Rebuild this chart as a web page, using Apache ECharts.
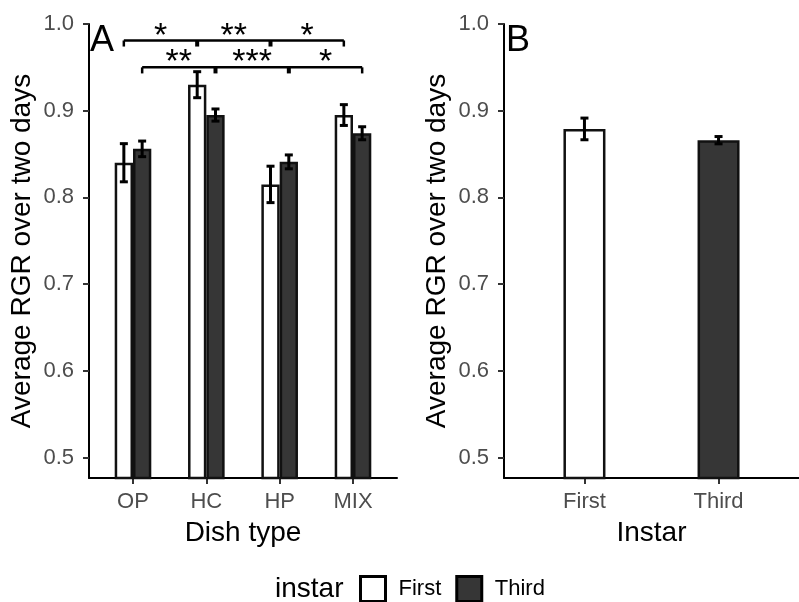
<!DOCTYPE html>
<html>
<head>
<meta charset="utf-8">
<script src="https://cdn.jsdelivr.net/npm/echarts@6/dist/echarts.min.js"></script>
<style>
  html, body { margin: 0; padding: 0; background: #fff; }
  #chart { width: 799px; height: 602px; }
</style>
</head>
<body>
<div id="chart"></div>
<script>
// panel A: dish type x instar
var dishes = ['OP', 'HC', 'HP', 'MIX'];
var firstMean = [0.840, 0.930, 0.815, 0.895];
var firstSE = [0.022, 0.015, 0.021, 0.012];
var thirdMean = [0.856, 0.895, 0.841, 0.874];
var thirdSE = [0.009, 0.007, 0.008, 0.0075];

// panel B: instar only
var instars = ['First', 'Third'];
var instarMean = [0.879, 0.866];
var instarSE = [0.0125, 0.0042];

var yTicks = [0.5, 0.6, 0.7, 0.8, 0.9, 1.0];

// significance brackets in panel A (x in dish units, y in RGR units)
var bracketX = [[0.875, 1.875, 2.875, 3.875], [1.125, 2.125, 3.125, 4.125]];
var bracketY = [0.981, 0.950];
var tipDrop = 0.007;
var bracketStars = [['*', '**', '*'], ['**', '***', '*']];
var starY = [0.986, 0.955];

var FONT = '"Liberation Sans", Arial, sans-serif';
var BAR_A = 18.3;
var BAR_B = 42;

function yAxis(gridIndex, gap) {
    return {
        type: 'value', gridIndex: gridIndex,
        min: 0.4764, max: 1.0,
        name: 'Average RGR over two days',
        nameLocation: 'middle', nameGap: gap,
        nameTextStyle: { fontSize: 28, color: '#000', fontFamily: FONT },
        axisLine: { show: true, lineStyle: { color: '#000', width: 2 } },
        axisTick: { show: true, length: 6, customValues: yTicks, lineStyle: { color: '#333', width: 2 } },
        axisLabel: {
            customValues: yTicks, margin: 15, fontSize: 22, color: '#4d4d4d', fontFamily: FONT,
            formatter: function (v) { return v.toFixed(1); }
        },
        splitLine: { show: false }
    };
}

function xAxis(gridIndex, labels, name) {
    var pos = labels.map(function (d, i) { return i + 1; });
    return {
        type: 'value', gridIndex: gridIndex,
        min: 0.4, max: labels.length + 0.6,
        name: name, nameLocation: 'middle', nameGap: 41,
        nameTextStyle: { fontSize: 28, color: '#000', fontFamily: FONT },
        axisLine: { show: true, onZero: false, lineStyle: { color: '#000', width: 2 } },
        axisTick: { show: true, length: 6, customValues: pos, lineStyle: { color: '#333', width: 2 } },
        axisLabel: {
            customValues: pos, margin: 13, fontSize: 22, color: '#4d4d4d', fontFamily: FONT,
            formatter: function (v) { return labels[Math.round(v) - 1]; }
        },
        splitLine: { show: false }
    };
}

function errorBars(axisIndex, xs, means, ses, dx) {
    return {
        type: 'custom', xAxisIndex: axisIndex, yAxisIndex: axisIndex, silent: true, z: 5,
        data: xs.map(function (x, i) { return [x, means[i], ses[i]]; }),
        encode: { x: 0, y: 1 },
        renderItem: function (params, api) {
            var x = api.value(0), m = api.value(1), s = api.value(2);
            var hi = api.coord([x, m + s]);
            var lo = api.coord([x, m - s]);
            var cx = hi[0] + dx;
            var cap = 4;
            var st = { stroke: '#000', lineWidth: 3 };
            return {
                type: 'group', children: [
                    { type: 'line', shape: { x1: cx, y1: hi[1], x2: cx, y2: lo[1] }, style: st },
                    { type: 'line', shape: { x1: cx - cap, y1: hi[1], x2: cx + cap, y2: hi[1] }, style: st },
                    { type: 'line', shape: { x1: cx - cap, y1: lo[1], x2: cx + cap, y2: lo[1] }, style: st }
                ]
            };
        }
    };
}

var xsA = dishes.map(function (d, i) { return i + 1; });
var xsB = instars.map(function (d, i) { return i + 1; });

var brackets = {
    type: 'custom', xAxisIndex: 0, yAxisIndex: 0, silent: true, z: 6,
    data: bracketX.map(function (b, i) { return [b[0], bracketY[i]]; }),
    encode: { x: 0, y: 1 },
    renderItem: function (params, api) {
        var k = params.dataIndex;
        var xs = bracketX[k];
        var y = api.coord([xs[0], bracketY[k]])[1];
        var yTip = api.coord([xs[0], bracketY[k] - tipDrop])[1];
        var yStar = api.coord([xs[0], starY[k]])[1];
        var px = xs.map(function (x) { return api.coord([x, bracketY[k]])[0]; });
        var st = { stroke: '#000', lineWidth: 2.5 };
        var children = [
            { type: 'line', shape: { x1: px[0], y1: y, x2: px[px.length - 1], y2: y }, style: st }
        ];
        px.forEach(function (p, j) {
            var mid = j > 0 && j < px.length - 1;
            children.push({ type: 'line', shape: { x1: p, y1: y, x2: p, y2: yTip },
                style: { stroke: '#000', lineWidth: mid ? 4 : 2.5 } });
        });
        bracketStars[k].forEach(function (s, j) {
            children.push({
                type: 'text', x: (px[j] + px[j + 1]) / 2, y: yStar,
                style: { text: s, fill: '#000', fontSize: 34, fontFamily: FONT, align: 'center', verticalAlign: 'middle' }
            });
        });
        return { type: 'group', children: children };
    }
};

var whiteStyle = { color: '#ffffff', borderColor: '#111', borderWidth: 2.5 };
var darkStyle = { color: '#363636', borderColor: '#111', borderWidth: 2.5 };

var chart = echarts.init(document.getElementById('chart'));
chart.setOption({
    animation: false,
    backgroundColor: '#fff',
    textStyle: { fontFamily: FONT },
    title: [
        { text: 'A', left: 90, top: 23, padding: 0, textStyle: { fontSize: 36, fontWeight: 'normal', color: '#000', fontFamily: FONT } },
        { text: 'B', left: 506, top: 23, padding: 0, textStyle: { fontSize: 36, fontWeight: 'normal', color: '#000', fontFamily: FONT } },
        { text: 'instar', left: 275, top: 575, padding: 0, textStyle: { fontSize: 28, fontWeight: 'normal', color: '#000', fontFamily: FONT } }
    ],
    legend: {
        data: instars, left: 359, top: 575, padding: 0,
        itemWidth: 25, itemHeight: 25, itemGap: 14, icon: 'rect',
        itemStyle: { borderColor: '#000', borderWidth: 3 },
        textStyle: { fontSize: 22, color: '#000', fontFamily: FONT, padding: [0, 0, 0, 8] },
        selectedMode: false
    },
    grid: [
        { left: 89, top: 24, width: 308, height: 454 },
        { left: 504, top: 24, width: 305, height: 454 }
    ],
    xAxis: [xAxis(0, dishes, 'Dish type'), xAxis(1, instars, 'Instar')],
    yAxis: [yAxis(0, 53), yAxis(1, 53)],
    series: [
        { type: 'bar', name: 'First', xAxisIndex: 0, yAxisIndex: 0, barWidth: BAR_A, barGap: '0%', silent: true,
          data: xsA.map(function (x, i) { return [x, firstMean[i]]; }), itemStyle: whiteStyle },
        { type: 'bar', name: 'Third', xAxisIndex: 0, yAxisIndex: 0, barWidth: BAR_A, barGap: '0%', silent: true,
          data: xsA.map(function (x, i) { return [x, thirdMean[i]]; }), itemStyle: darkStyle },
        { type: 'bar', name: 'First', xAxisIndex: 1, yAxisIndex: 1, barWidth: BAR_B, barGap: '-100%', silent: true,
          data: [[xsB[0], instarMean[0]]], itemStyle: whiteStyle },
        { type: 'bar', name: 'Third', xAxisIndex: 1, yAxisIndex: 1, barWidth: BAR_B, barGap: '-100%', silent: true,
          data: [[xsB[1], instarMean[1]]], itemStyle: darkStyle },
        errorBars(0, xsA, firstMean, firstSE, -BAR_A / 2),
        errorBars(0, xsA, thirdMean, thirdSE, BAR_A / 2),
        errorBars(1, xsB, instarMean, instarSE, 0),
        brackets
    ]
});
</script>
</body>
</html>
